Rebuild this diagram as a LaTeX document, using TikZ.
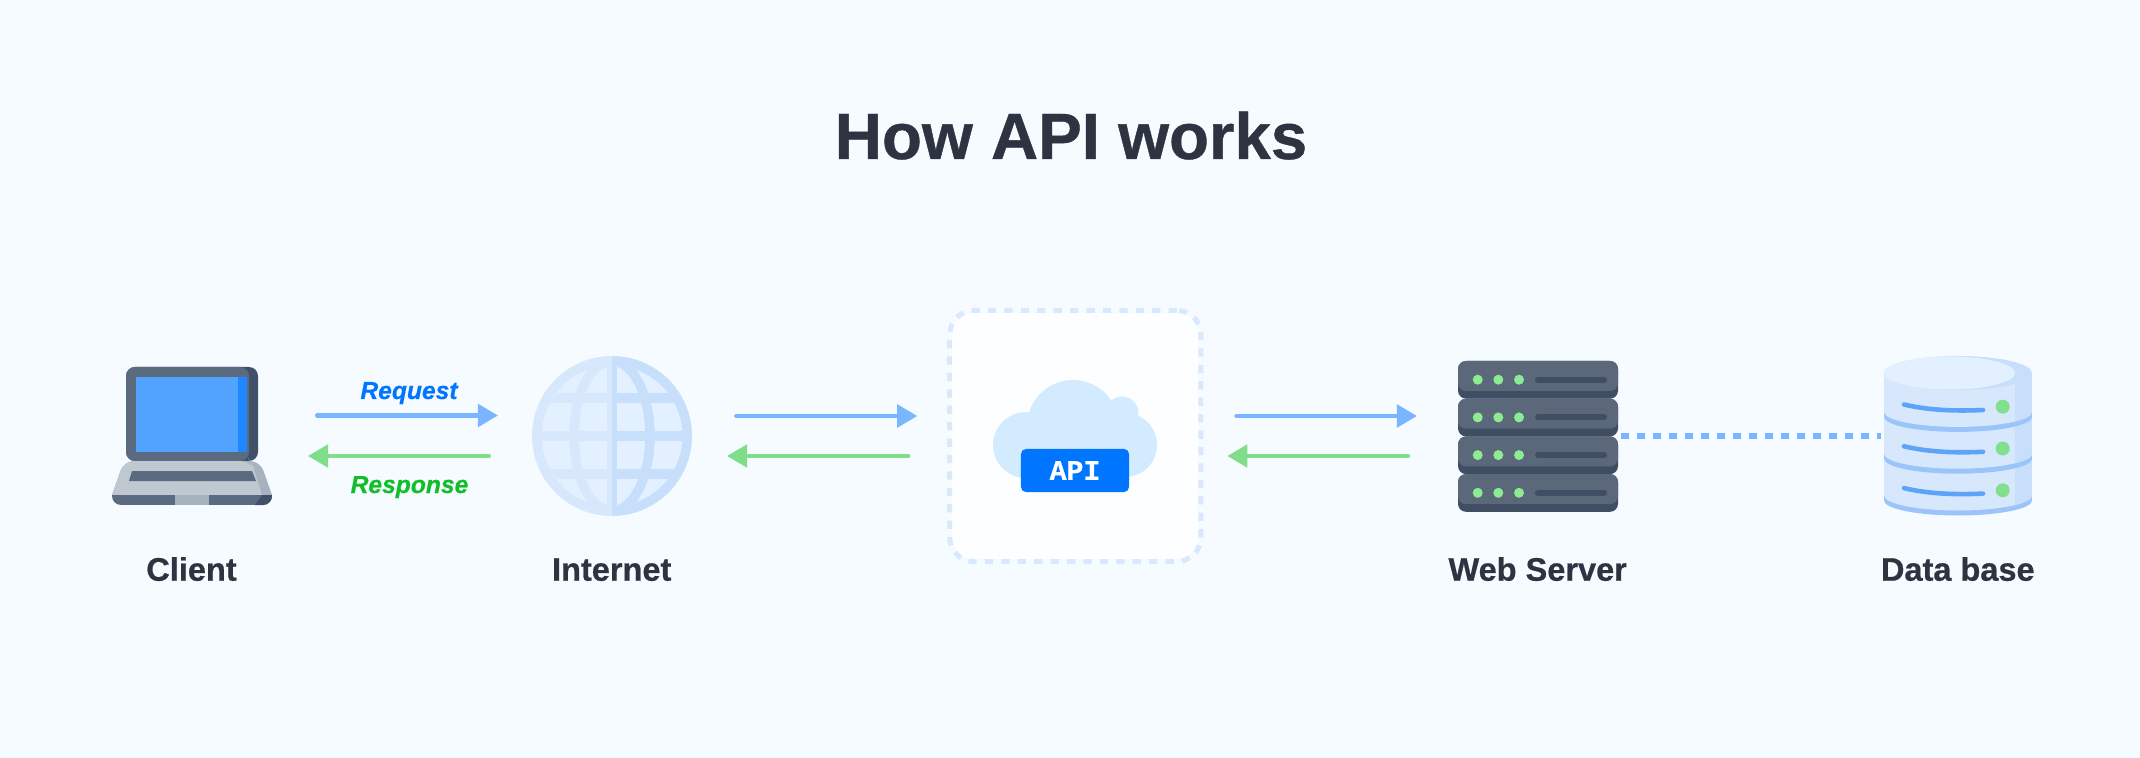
\documentclass[tikz,border=0pt]{standalone}
\usepackage{fontspec}
\setmainfont{Liberation Sans}[BoldFeatures={FakeBold=.6},BoldItalicFeatures={FakeBold=.5}]
\newfontfamily\apifont{Liberation Mono}[BoldFeatures={FakeBold=.8}]
\usetikzlibrary{calc}
\usetikzlibrary{arrows.meta}
\definecolor{bgcol}{HTML}{F6FBFF}
\definecolor{inkcol}{HTML}{2D3340}
\definecolor{reqcol}{HTML}{7AB6FF}
\definecolor{respcol}{HTML}{80DD8C}
\definecolor{reqtext}{HTML}{0075FF}
\definecolor{resptext}{HTML}{0FBF2A}
\definecolor{lidcol}{HTML}{5A6B80}
\definecolor{liddark}{HTML}{3F5068}
\definecolor{screencol}{HTML}{52A3FF}
\definecolor{screendark}{HTML}{1E87FF}
\definecolor{basecol}{HTML}{BFC7D1}
\definecolor{basedark}{HTML}{A7B2BF}
\definecolor{globeL}{HTML}{D7E8FD}
\definecolor{globeR}{HTML}{C8DFFB}
\definecolor{globepane}{HTML}{E3F0FF}
\definecolor{cloudcol}{HTML}{D3EBFF}
\definecolor{boxdash}{HTML}{D9E9FD}
\definecolor{boxfill}{HTML}{FDFEFF}
\definecolor{srvcol}{HTML}{5A6879}
\definecolor{srvdark}{HTML}{3F4E63}
\definecolor{ledcol}{HTML}{8CEB93}
\definecolor{dbband}{HTML}{9BC4FB}
\definecolor{dbline}{HTML}{5FA3F9}
\definecolor{dbled}{HTML}{81E08E}
\tikzset{
        spot/.style={inner sep=0pt,outer sep=0pt,minimum width=#1,minimum height=1.6cm},
        caption/.style={anchor=base,text=inkcol,font=\fontsize{9.25}{11}\selectfont\bfseries},
        tag/.style={anchor=base,font=\fontsize{7}{9}\selectfont\bfseries\itshape},
        reqline/.style={reqcol,line width=1.14pt,line cap=round,-{Triangle[length=5.7pt,width=6.4pt]}},
        respline/.style={respcol,line width=1.14pt,line cap=round,-{Triangle[length=5.7pt,width=6.4pt]}},
        linkline/.style={reqcol,line width=1.7pt,dash pattern=on 2.27pt off 2.27pt,shorten <=.03cm,shorten >=.03cm},
        apibox/.style={inner sep=0pt,minimum size=2.51cm,outer sep=.71pt,rounded corners=.24cm,boxdash,line width=1.42pt,dash pattern=on 2.35pt off 2.32pt,draw},
}
\begin{document}
\begin{tikzpicture}[x=.01cm,y=-.01cm]
        \fill[bgcol] (0,0) rectangle (2140,758);
        \node[anchor=base,text=inkcol,font=\fontsize{18.6}{22}\selectfont\bfseries] (title) at (1071,159) {How API works};

        \node[spot=1.6cm] (client) at (192,436) {};
        \node[spot=1.6cm] (internet) at (612,436) {};
        \fill[boxfill,rounded corners=.22cm] (952,313) rectangle (1198,559);
        \node[apibox] (api) at (1075.3,436) {};
        \node[spot=1.6cm] (server) at (1538,436) {};
        \node[spot=1.48cm] (db) at (1958,436) {};

        \fill[liddark,rounded corners=.09cm] (126,367) rectangle (258,461);
        \fill[lidcol,rounded corners=.09cm] (126,367) rectangle (249,461);
        \fill[screendark] (136,377) rectangle (247,452);
        \fill[screencol] (136,377) rectangle (238,452);
        \fill[basedark] (112,495) [rounded corners=.1cm] -- (124,461) -- (260,461) [sharp corners] -- (272,495) -- cycle;
        \fill[basecol] (112,495) [rounded corners=.1cm] -- (124,461) -- (250,461) -- (253,466) [sharp corners] -- (262,495) -- cycle;
        \fill[lidcol] (132,471) -- (252,471) -- (256,481) -- (129,481) -- cycle;
        \begin{scope}
                \clip[rounded corners=.09cm] (112,480) rectangle (272,505);
                \fill[lidcol] (112,495) rectangle (272,505);
                \fill[liddark] (262,495) -- (272,495) -- (272,505) -- (255,505) -- cycle;
                \fill[basedark] (175,495) rectangle (209,505);
        \end{scope}

        \begin{scope}[shift={(internet.center)}]
                \fill[globepane] (0,0) circle (76);
                \foreach \xa/\xb/\col in {-80/0/globeL,0/80/globeR}{
                        \begin{scope}
                                \clip (\xa,-80) rectangle (\xb,80);
                                \draw[\col,line width=2.7pt] (0,0) circle (75.25);
                                \draw[\col,line width=2.7pt] (0,0) ellipse (38 and 75);
                                \draw[\col,line width=2.6pt] (0,-75) -- (0,75);
                                \foreach \yy in {-38,0,38}{
                                        \pgfmathsetmacro\xx{sqrt(75.5*75.5-\yy*\yy)}
                                        \draw[\col,line width=2.65pt] (-\xx,\yy) -- (\xx,\yy);
                                }
                        \end{scope}
                }
        \end{scope}

        \fill[cloudcol] (1026,445) circle (33);
        \fill[cloudcol] (1125,445) circle (32);
        \fill[cloudcol] (1073,426) circle (46);
        \fill[cloudcol] (1122,413) circle (16.5);
        \fill[cloudcol] (1026,430) rectangle (1125,478);
        \node[fill=reqtext,rounded corners=.05cm,minimum width=1.08cm,minimum height=.43cm,inner sep=0pt,text=white,font=\fontsize{8}{9}\apifont\bfseries] (apitag) at (1075,470.5) {API};

        \foreach \i in {0,...,3}{
                \pgfmathsetmacro\yy{361+37.7*\i}
                \pgfmathsetmacro\yb{\yy+37.7}
                \pgfmathsetmacro\yc{\yy+30}
                \pgfmathsetmacro\yd{\yy+18.7}
                \fill[srvdark,rounded corners=.08cm] (1458,\yy) rectangle (1618,\yb);
                \fill[srvcol,rounded corners=.08cm] (1458,\yy) rectangle (1618,\yc);
                \foreach \xx in {1477.7,1498.3,1519}
                        \fill[ledcol] (\xx,\yd) circle (5);
                \draw[srvdark,line width=1.7pt,line cap=round] (1538,\yd) -- (1604,\yd);
        }

        \foreach \ya in {495.5,453.7,411.9}{
                \pgfmathsetmacro\yb{\ya+5}
                \fill[dbband] (1884,\ya) rectangle (2032,\yb);
                \fill[dbband] (1958,\yb) ellipse (74 and 15);
                \fill[globeL] (1884,373) rectangle (2032,\ya);
                \fill[globeL] (1958,\ya) ellipse (74 and 15);
                \begin{scope}
                        \clip (2015,373) rectangle (2032,530);
                        \fill[globeR] (1884,373) rectangle (2032,\ya);
                        \fill[globeR] (1958,\ya) ellipse (74 and 15);
                \end{scope}
        }
        \fill[globeR] (1958,373) ellipse (74 and 17);
        \fill[globepane] (1949.5,373) ellipse (65.5 and 16.5);
        \foreach \dy in {0,41.8,83.6}{
                \draw[dbline,line width=1.3pt,line cap=round] (1904,404.5+\dy) .. controls (1925,409.5+\dy) and (1950,411.5+\dy) .. (1983,410+\dy);
                \fill[dbled] (2002.7,406.7+\dy) circle (7);
        }

        \draw[reqline] ($(client.east)+(45,-20.5)$) -- ($(internet.west)+(-34,-20.5)$);
        \draw[respline] ($(internet.west)+(-43,20)$) -- ($(client.east)+(36,20)$);
        \draw[reqline] ($(internet.east)+(44,-20)$) -- ($(api.west)+(-30,-20)$);
        \draw[respline] ($(api.west)+(-39,20)$) -- ($(internet.east)+(35,20)$);
        \draw[reqline] ($(api.east)+(33,-20)$) -- ($(server.west)+(-41,-20)$);
        \draw[respline] ($(server.west)+(-50,20)$) -- ($(api.east)+(24,20)$);
        \draw[linkline] (server.east) -- (db.west);

        \node[tag,text=reqtext] (request) at (409,399) {Request};
        \node[tag,text=resptext] (response) at (409.5,493) {Response};
        \node[caption] (clientname) at (191.5,580.7) {Client};
        \node[caption] (internetname) at (611.7,580.7) {Internet};
        \node[caption] (servername) at (1537.7,580.7) {Web Server};
        \node[caption] (dbname) at (1957.8,580.7) {Data base};
\end{tikzpicture}
\end{document}
